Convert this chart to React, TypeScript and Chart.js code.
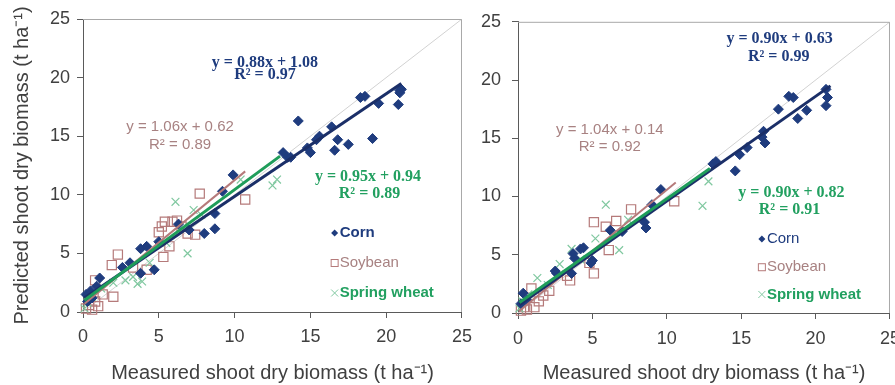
import React, { useEffect, useRef } from 'react';
import { Chart, registerables } from 'chart.js';
Chart.register(...registerables);

type P = [number, number];

// ---- axis & labels ----
const axisMin = 0;
const axisMax = 25;
const axisStep = 5;
const xTitleText = 'Measured shoot dry biomass (t ha\u207B\u00B9)';
const yTitleText = 'Predicted shoot dry biomass (t ha\u207B\u00B9)';
const legendNames = ['Corn', 'Soybean', 'Spring wheat'];

// ---- left panel data ----
const cornA: P[] = [
  [0.2, 1.5], [0.3, 0.9], [0.5, 1.8], [0.6, 1.2], [0.9, 2.2], [1.1, 2.9], [2.6, 3.8], [3.1, 4.2],
  [3.8, 3.3], [3.8, 5.4], [4.2, 5.6], [4.7, 3.6], [5.0, 6.0], [6.3, 7.5], [7.0, 7.0], [8.0, 6.7],
  [8.7, 7.1], [8.7, 8.4], [9.2, 10.3], [9.9, 11.7], [13.2, 13.6], [13.5, 13.2], [13.7, 13.2],
  [14.2, 16.3], [14.8, 14.0], [15.0, 13.6], [15.4, 14.7], [15.6, 15.0], [16.4, 15.8], [16.6, 13.8],
  [16.8, 14.7], [17.5, 14.3], [18.3, 18.3], [18.6, 18.4], [19.1, 14.8], [19.5, 17.8], [20.8, 17.7],
  [20.9, 18.7], [21.0, 19.0], [20.9, 18.9],
];
const soyA: P[] = [
  [0.2, 0.3], [0.4, 0.6], [0.6, 0.2], [0.8, 0.9], [1.0, 0.5], [0.8, 2.7], [1.3, 1.5], [2.0, 1.3],
  [1.9, 4.0], [2.3, 4.9], [3.3, 3.8], [4.2, 3.6], [5.0, 6.8], [5.3, 4.7], [5.2, 7.3], [5.4, 7.7],
  [5.7, 5.6], [5.9, 7.7], [6.2, 7.8], [6.5, 7.3], [6.9, 6.7], [7.4, 6.6], [7.7, 10.1], [10.7, 9.6],
];
const wheatA: P[] = [
  [0.1, 0.3], [0.3, 0.8], [0.6, 1.3], [1.2, 2.0], [2.0, 2.5], [2.8, 2.7], [3.3, 3.0], [3.6, 2.4],
  [3.9, 2.6], [4.4, 4.2], [5.5, 5.9], [6.1, 9.4], [6.9, 5.0], [7.3, 8.7], [7.8, 8.3], [10.4, 11.3],
  [12.5, 10.8], [12.8, 11.3],
];
const trendCornA: P[] = [[0.1, 1.2], [21.0, 19.5]];
const trendSoyA: P[] = [[0.1, 0.7], [10.7, 12.0]];
const trendWheatA: P[] = [[0.1, 1.0], [13.0, 13.3]];
const eqCornA = ['y = 0.88x + 1.08', 'R\u00B2 = 0.97'];
const eqSoyA = ['y = 1.06x + 0.62', 'R\u00B2 = 0.89'];
const eqWheatA = ['y = 0.95x + 0.94', 'R\u00B2 = 0.89'];

// ---- right panel data ----
const cornB: P[] = [
  [0.2, 0.8], [0.35, 1.7], [0.6, 1.1], [2.5, 3.6], [2.6, 3.4], [3.6, 3.4], [3.7, 5.1], [3.8, 4.7],
  [4.2, 5.5], [4.4, 5.6], [4.9, 4.3], [5.0, 4.5], [6.2, 7.1], [7.0, 7.0], [8.5, 7.8], [8.6, 7.3],
  [9.0, 9.3], [9.6, 10.6], [13.1, 12.8], [13.3, 13.0], [14.6, 12.2], [14.9, 13.6], [15.4, 14.2],
  [16.4, 15.1], [16.5, 15.6], [16.6, 14.6], [17.5, 17.5], [18.2, 18.6], [18.5, 18.5], [18.8, 16.7],
  [19.4, 17.4], [20.7, 17.8], [20.8, 18.5], [20.7, 19.2],
];
const soyB: P[] = [
  [0.2, 0.2], [0.4, 0.5], [0.6, 0.3], [0.9, 2.1], [1.1, 0.5], [1.4, 1.0], [1.7, 1.5], [2.1, 1.9],
  [3.5, 2.8], [3.3, 3.2], [4.8, 4.3], [5.1, 3.4], [5.1, 7.8], [5.9, 7.4], [6.1, 5.4], [6.6, 7.9],
  [7.6, 8.9], [10.5, 9.6],
];
const wheatB: P[] = [
  [0.1, 0.4], [0.3, 1.0], [0.7, 1.6], [1.3, 3.0], [2.0, 2.4], [2.8, 4.2], [3.6, 5.5], [4.2, 4.6],
  [5.2, 6.4], [5.9, 9.3], [6.8, 5.4], [7.4, 8.0], [12.4, 9.2], [12.8, 11.3],
];
const trendCornB: P[] = [[0.1, 0.7], [21.0, 19.5]];
const trendSoyB: P[] = [[0.1, 0.2], [10.6, 11.2]];
const trendWheatB: P[] = [[0.1, 0.9], [12.9, 12.4]];
const eqCornB = ['y = 0.90x + 0.63', 'R\u00B2 = 0.99'];
const eqSoyB = ['y = 1.04x + 0.14', 'R\u00B2 = 0.92'];
const eqWheatB = ['y = 0.90x + 0.82', 'R\u00B2 = 0.91'];

const oneToOne: P[] = [[0, 0], [25, 25]];

// ---- styles ----
const NAVY = '#1f3c7e';
const NAVY_LINE = '#1b2f68';
const ROSE = '#b57a7a';
const ROSE_TXT = '#a88282';
const GREEN = '#1f9d5a';
const GREEN_TXT = '#22a060';
const GREEN_LIGHT = '#80c8a0';
const AXIS = '#5a5a5a';
const TEXT = '#404040';
const SANS = '"Liberation Sans", Arial, sans-serif';
const SERIF = '"Liberation Serif", "Times New Roman", serif';

const pts = (a: P[]) => a.map(([x, y]) => ({ x, y }));

const overlay = {
  id: 'overlay',
  afterDatasetsDraw(chart: any, _args: any, opts: any) {
    const { ctx, chartArea: a, scales } = chart;
    const sx = scales.x;
    const sy = scales.y;
    ctx.save();
    ctx.strokeStyle = '#a8a8a8';
    ctx.lineWidth = 1;
    ctx.beginPath();
    ctx.moveTo(a.left, a.top + 0.5);
    ctx.lineTo(a.right - 0.5, a.top + 0.5);
    ctx.lineTo(a.right - 0.5, a.bottom);
    ctx.stroke();
    for (const n of opts.notes || []) {
      ctx.font = n.font;
      ctx.fillStyle = n.color;
      ctx.textAlign = 'center';
      ctx.textBaseline = 'middle';
      ctx.fillText(n.text, sx.getPixelForValue(n.x), sy.getPixelForValue(n.y));
    }
    for (const l of opts.legend || []) {
      const mx = sx.getPixelForValue(l.mx);
      const my = sy.getPixelForValue(l.y);
      ctx.lineWidth = 1;
      if (l.marker === 'diamond') {
        ctx.fillStyle = l.mcolor;
        ctx.beginPath();
        ctx.moveTo(mx, my - 3.5);
        ctx.lineTo(mx + 3.5, my);
        ctx.lineTo(mx, my + 3.5);
        ctx.lineTo(mx - 3.5, my);
        ctx.closePath();
        ctx.fill();
      } else if (l.marker === 'square') {
        ctx.strokeStyle = l.mcolor;
        ctx.strokeRect(mx - 3.5, my - 3.5, 7, 7);
      } else {
        ctx.strokeStyle = l.mcolor;
        ctx.beginPath();
        ctx.moveTo(mx - 3.5, my - 3.5);
        ctx.lineTo(mx + 3.5, my + 3.5);
        ctx.moveTo(mx + 3.5, my - 3.5);
        ctx.lineTo(mx - 3.5, my + 3.5);
        ctx.stroke();
      }
      ctx.font = l.font;
      ctx.fillStyle = l.color;
      ctx.textAlign = 'left';
      ctx.textBaseline = 'middle';
      ctx.fillText(l.text, mx + 5, my);
    }
    ctx.restore();
  },
};

function buildConfig(p: any): any {
  return {
    type: 'scatter',
    data: {
      datasets: [
        { label: 'wheat trend', data: pts(p.trendWheat), showLine: true, borderColor: GREEN, borderWidth: 3, pointRadius: 0 },
        { label: 'corn trend', data: pts(p.trendCorn), showLine: true, borderColor: NAVY_LINE, borderWidth: 3, pointRadius: 0 },
        { label: 'soy trend', data: pts(p.trendSoy), showLine: true, borderColor: ROSE, borderWidth: 2, pointRadius: 0 },
        { label: legendNames[0], data: pts(p.corn), pointStyle: 'rectRot', pointRadius: 5, backgroundColor: NAVY, borderColor: NAVY, borderWidth: 1, clip: false },
        { label: legendNames[2], data: pts(p.wheat), pointStyle: 'crossRot', pointRadius: 5.5, borderColor: GREEN_LIGHT, borderWidth: 1.2, clip: false },
        { label: legendNames[1], data: pts(p.soy), pointStyle: 'rect', pointRadius: 6.5, backgroundColor: 'rgba(255,255,255,0)', borderColor: ROSE, borderWidth: 1.2, clip: false },
        { label: '1:1', data: pts(oneToOne), showLine: true, borderColor: '#d2d2d2', borderWidth: 1, pointRadius: 0 },
      ],
    },
    options: {
      responsive: false,
      animation: false,
      events: [],
      layout: { padding: p.padding },
      plugins: {
        legend: { display: false },
        tooltip: { enabled: false },
        overlay: { notes: p.notes, legend: p.legend },
      },
      scales: {
        x: {
          type: 'linear',
          min: axisMin,
          max: axisMax,
          ticks: { stepSize: axisStep, padding: p.xTickPad, color: TEXT, font: { family: SANS, size: 18 }, maxRotation: 0, autoSkip: false },
          grid: { display: true, drawOnChartArea: false, drawTicks: true, tickLength: 6, color: AXIS },
          border: { display: true, color: AXIS, width: 1 },
          title: { display: true, text: xTitleText, color: TEXT, font: { family: SANS, size: 20 }, padding: { top: 0, bottom: 0 } },
          afterFit: (s: any) => { s.height = p.xHeight; },
        },
        y: {
          type: 'linear',
          min: axisMin,
          max: axisMax,
          ticks: { stepSize: axisStep, padding: p.yTickPad, color: TEXT, font: { family: SANS, size: 18 } },
          grid: { display: true, drawOnChartArea: false, drawTicks: true, tickLength: 6, color: AXIS },
          border: { display: true, color: AXIS, width: 1 },
          title: { display: p.yTitle, text: yTitleText, color: TEXT, font: { family: SANS, size: 20 }, padding: { top: 10, bottom: 0 } },
          afterFit: (s: any) => { s.width = p.yWidth; },
        },
      },
    },
    plugins: [overlay],
  };
}

const EQ_BOLD = `bold 16px ${SERIF}`;
const EQ_SANS = `15px ${SANS}`;

const panelA = {
  corn: cornA, soy: soyA, wheat: wheatA,
  trendCorn: trendCornA, trendSoy: trendSoyA, trendWheat: trendWheatA,
  padding: { left: 0, right: 18, top: 19, bottom: 0 },
  yWidth: 83, xHeight: 73, yTitle: true, yTickPad: 7, xTickPad: 8,
  notes: [
    { text: eqCornA[0], x: 12.0, y: 21.3, font: EQ_BOLD, color: NAVY },
    { text: eqCornA[1], x: 12.0, y: 20.2, font: EQ_BOLD, color: NAVY },
    { text: eqSoyA[0], x: 6.4, y: 15.8, font: EQ_SANS, color: ROSE_TXT },
    { text: eqSoyA[1], x: 6.4, y: 14.25, font: EQ_SANS, color: ROSE_TXT },
    { text: eqWheatA[0], x: 18.8, y: 11.5, font: EQ_BOLD, color: GREEN_TXT },
    { text: eqWheatA[1], x: 18.9, y: 10.1, font: EQ_BOLD, color: GREEN_TXT },
  ],
  legend: [
    { text: legendNames[0], marker: 'diamond', mx: 16.6, y: 6.74, font: `bold 15px ${SANS}`, color: NAVY, mcolor: NAVY },
    { text: legendNames[1], marker: 'square', mx: 16.6, y: 4.18, font: `15px ${SANS}`, color: ROSE_TXT, mcolor: ROSE },
    { text: legendNames[2], marker: 'cross', mx: 16.6, y: 1.62, font: `bold 15px ${SANS}`, color: GREEN_TXT, mcolor: GREEN_LIGHT },
  ],
};

const panelB = {
  corn: cornB, soy: soyB, wheat: wheatB,
  trendCorn: trendCornB, trendSoy: trendSoyB, trendWheat: trendWheatB,
  padding: { left: 0, right: 14, top: 14, bottom: 0 },
  yWidth: 48, xHeight: 72, yTitle: false, yTickPad: 11, xTickPad: 9,
  notes: [
    { text: eqCornB[0], x: 17.58, y: 23.5, font: EQ_BOLD, color: NAVY },
    { text: eqCornB[1], x: 17.52, y: 22.0, font: EQ_BOLD, color: NAVY },
    { text: eqSoyB[0], x: 6.17, y: 15.72, font: EQ_SANS, color: ROSE_TXT },
    { text: eqSoyB[1], x: 6.17, y: 14.3, font: EQ_SANS, color: ROSE_TXT },
    { text: eqWheatB[0], x: 18.38, y: 10.28, font: EQ_BOLD, color: GREEN_TXT },
    { text: eqWheatB[1], x: 18.25, y: 8.86, font: EQ_BOLD, color: GREEN_TXT },
  ],
  legend: [
    { text: legendNames[0], marker: 'diamond', mx: 16.39, y: 6.35, font: `15px ${SANS}`, color: NAVY, mcolor: NAVY },
    { text: legendNames[1], marker: 'square', mx: 16.39, y: 3.93, font: `15px ${SANS}`, color: ROSE_TXT, mcolor: ROSE },
    { text: legendNames[2], marker: 'cross', mx: 16.39, y: 1.59, font: `bold 15px ${SANS}`, color: GREEN_TXT, mcolor: GREEN_LIGHT },
  ],
};

export default function App() {
  const c1 = useRef<HTMLCanvasElement>(null);
  const c2 = useRef<HTMLCanvasElement>(null);
  useEffect(() => {
    const ch1 = new Chart(c1.current as HTMLCanvasElement, buildConfig(panelA));
    const ch2 = new Chart(c2.current as HTMLCanvasElement, buildConfig(panelB));
    return () => {
      ch1.destroy();
      ch2.destroy();
    };
  }, []);
  return (
    <div style={{ position: 'fixed', left: 0, top: 0, width: 895, height: 385, overflow: 'hidden', background: '#ffffff' }}>
      <canvas ref={c1} width={480} height={385} style={{ position: 'absolute', left: 0, top: 0, width: 480, height: 385 }} />
      <canvas ref={c2} width={439} height={385} style={{ position: 'absolute', left: 470, top: 0, width: 439, height: 385 }} />
    </div>
  );
}
